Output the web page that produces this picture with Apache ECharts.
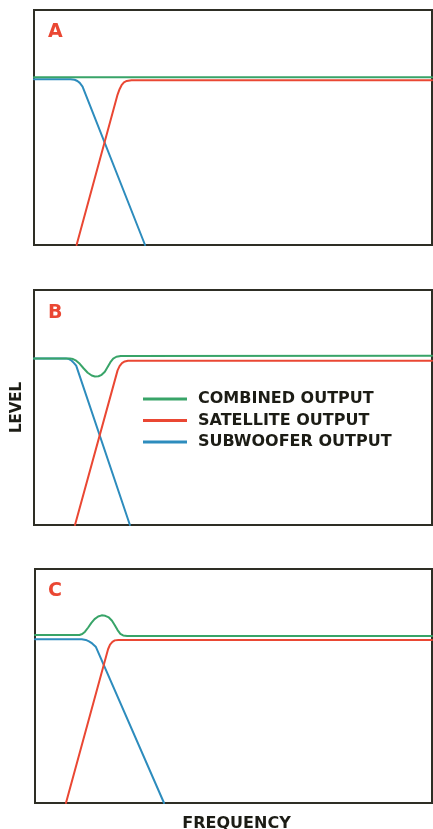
<!DOCTYPE html>
<html>
<head>
<meta charset="utf-8">
<style>
  html, body { margin: 0; padding: 0; background: #fff; }
  #chart { width: 433px; height: 829px; }
</style>
<script src="https://cdn.jsdelivr.net/npm/echarts@6/dist/echarts.min.js"></script>
</head>
<body>
<div id="chart"></div>
<script>
// x = frequency (0..100 across the box), y = level (0..100 bottom to top)
const panelLabels = ['A', 'B', 'C'];
const seriesNames = ['COMBINED OUTPUT', 'SATELLITE OUTPUT', 'SUBWOOFER OUTPUT'];

// A: flat combined response
const combinedA = [[0, 71.4], [100, 71.4]];
const satelliteA = [[10.7, 0], [21.0, 64.0], [21.5, 66.3], [22.0, 68.0], [22.6, 69.2], [23.3, 69.8], [24.5, 70.1], [100, 70.1]];
const subwooferA = [[0, 70.5], [9.2, 70.5], [10.2, 70.3], [10.9, 69.8], [11.5, 69.0], [12.2, 67.4], [27.9, 0]];

// B: dip at crossover
const combinedB = [[0, 70.9], [9.0, 70.9], [9.8, 70.6], [10.6, 69.9], [11.5, 68.6], [12.5, 66.6], [13.5, 64.8],
  [14.5, 63.6], [15.3, 63.2], [16.2, 63.3], [17.0, 63.9], [17.8, 65.2], [18.5, 67.2], [19.2, 69.3],
  [19.9, 70.8], [20.7, 71.6], [21.8, 71.9], [100, 72.0]];
const satelliteB = [[10.3, 0], [21.0, 65.8], [21.5, 67.6], [22.1, 68.9], [22.8, 69.6], [23.6, 69.9], [100, 69.9]];
const subwooferB = [[0, 70.9], [8.0, 70.9], [8.8, 70.6], [9.4, 70.0], [10.0, 69.0], [10.6, 67.8], [24.1, 0]];

// C: peak at crossover
const combinedC = [[0, 71.8], [11.2, 71.8], [11.9, 72.2], [12.6, 73.2], [13.4, 75.0], [14.2, 77.0], [15.0, 78.6],
  [15.9, 79.7], [16.8, 80.2], [17.7, 80.0], [18.6, 79.3], [19.4, 77.9], [20.1, 76.0], [20.8, 73.9],
  [21.5, 72.3], [22.2, 71.6], [23.2, 71.4], [100, 71.4]];
const satelliteC = [[7.8, 0], [18.4, 65.7], [18.9, 67.7], [19.5, 68.9], [20.1, 69.5], [21.0, 69.7], [100, 69.7]];
const subwooferC = [[0, 70.0], [11.8, 70.0], [12.8, 69.7], [13.6, 69.1], [14.4, 68.2], [15.3, 66.8], [32.5, 0]];

const combined = [combinedA, combinedB, combinedC];
const satellite = [satelliteA, satelliteB, satelliteC];
const subwoofer = [subwooferA, subwooferB, subwooferC];

const GREEN = '#38a468';
const RED = '#ea4733';
const BLUE = '#2d8cbd';
const INK = '#1c1c15';
const FONT = 'DejaVu Sans';

const chart = echarts.init(document.getElementById('chart'));

const grids = [
  { left: 34, right: 1, top: 10, height: 235 },
  { left: 34, right: 1, top: 290, height: 235 },
  { left: 35, right: 1, top: 569, height: 234 },
].map(g => ({ ...g, show: true, outerBoundsMode: 'none', containLabel: false,
  borderColor: '#2e2e25', borderWidth: 2, backgroundColor: '#fff' }));

const hidden = { axisLine: { show: false }, axisTick: { show: false }, axisLabel: { show: false }, splitLine: { show: false } };

const xAxes = grids.map((g, i) => ({
  type: 'value', gridIndex: i, min: 0, max: 100, ...hidden,
  name: i === 2 ? 'FREQUENCY' : '',
  nameLocation: 'middle', nameGap: 13,
  nameTextStyle: { color: INK, fontFamily: FONT, fontWeight: 'bold', fontSize: 16, padding: [0, 0, 0, 6] },
}));
const yAxes = grids.map((g, i) => ({
  type: 'value', gridIndex: i, min: 0, max: 100, ...hidden,
  name: i === 1 ? 'LEVEL' : '',
  nameLocation: 'middle', nameRotate: 90, nameGap: 9,
  nameTextStyle: { color: INK, fontFamily: FONT, fontWeight: 'bold', fontSize: 15 },
}));

const lineSeries = (name, data, color, i) => ({
  name, type: 'line', data, xAxisIndex: i, yAxisIndex: i,
  symbol: 'none', smooth: false,
  lineStyle: { width: 2, color, join: 'round', cap: 'round' }, itemStyle: { color },
});

const series = [];
for (let i = 0; i < 3; i++) {
  series.push(lineSeries(seriesNames[2], subwoofer[i], BLUE, i));
  series.push(lineSeries(seriesNames[1], satellite[i], RED, i));
  series.push(lineSeries(seriesNames[0], combined[i], GREEN, i));
}

const titleTops = [22.5, 304, 581.5];

chart.setOption({
  backgroundColor: '#fff',
  animation: false,
  title: panelLabels.map((t, i) => ({
    text: t, left: 48, top: titleTops[i], padding: 0,
    textStyle: { color: RED, fontFamily: FONT, fontWeight: 'bold', fontSize: 19 },
  })),
  legend: {
    data: seriesNames,
    orient: 'vertical', left: 143, top: 391, padding: 0,
    icon: 'rect', itemWidth: 44, itemHeight: 3, itemGap: 5.5,
    selectedMode: false,
    textStyle: { color: INK, fontFamily: FONT, fontWeight: 'bold', fontSize: 16, lineHeight: 16, padding: [0, 0, 0, 6] },
  },
  grid: grids,
  xAxis: xAxes,
  yAxis: yAxes,
  series,
});
</script>
</body>
</html>
